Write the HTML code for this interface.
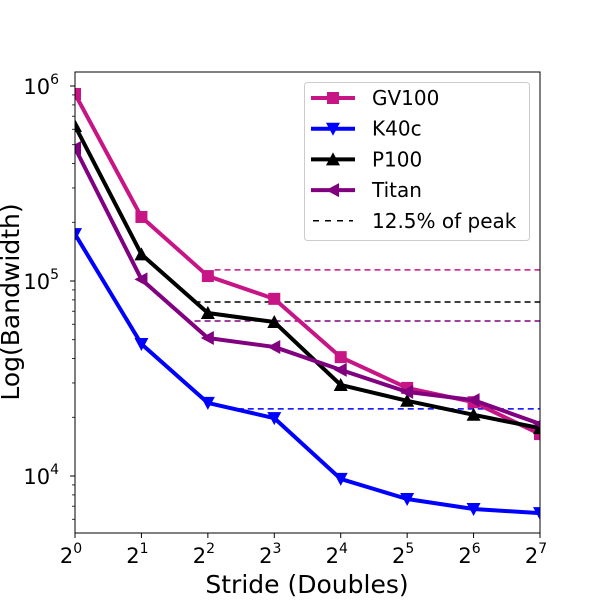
<!DOCTYPE html>
<html><head><meta charset="utf-8"><style>
body{margin:0;background:#fff}
svg{display:block;font-family:"DejaVu Sans","Liberation Sans",sans-serif}
</style></head><body>
<svg id="chart" width="600" height="600"></svg>
<script>
const strides=[0,1,2,3,4,5,6,7];
const gv100=[910000,213000,106000,81000,40700,28300,23900,16400];
const k40c=[174000,47500,23700,19800,9660,7620,6770,6450];
const p100=[624000,137000,68500,61600,29300,24300,20600,17600];
const titan=[481000,102000,51000,45900,35000,27000,24500,18500];
const peakValues=[114000,22100,78000,62400];
const peakStarts=[2.1,2.45,1.8,1.8];
const seriesNames=["GV100","K40c","P100","Titan"];
const xTicks=[0,1,2,3,4,5,6,7];
const yTicks=[4,5,6];

const NS="http://www.w3.org/2000/svg";
const svg=document.getElementById('chart');
const L=75,R=540,T=72,B=533;
const xS=v=>L+(v-0)/7*(R-L);
const yS=v=>281-(Math.log10(v)-5)*195;
function el(tag,attrs,parent){const e=document.createElementNS(NS,tag);for(const k in attrs)e.setAttribute(k,attrs[k]);(parent||svg).appendChild(e);return e;}
const colors=["#c71585","#0000ff","#000000","#800080"];
const data=[gv100,k40c,p100,titan];
const markers=["square","down","up","left"];
function marker(type,x,y,c,g){
  let m;
  if(type==="square")m=el('rect',{x:x-6,y:y-6,width:12,height:12,fill:c},g);
  else{let p;
    if(type==="down")p=[[x-7,y-6],[x+7,y-6],[x,y+7]];
    else if(type==="up")p=[[x-7,y+6],[x+7,y+6],[x,y-7]];
    else p=[[x+6,y-7],[x+6,y+7],[x-7,y]];
    m=el('polygon',{points:p.map(a=>a.join(',')).join(' '),fill:c},g);}
  
  
}
const defs=el('defs',{});const cp=el('clipPath',{id:'clip'},defs);el('rect',{x:L,y:T,width:R-L,height:B-T},cp);
peakValues.forEach((v,i)=>{
  const l=el('line',{x1:xS(peakStarts[i]),x2:R,y1:yS(v),y2:yS(v),stroke:colors[i],'stroke-width':1.5,'stroke-dasharray':'6,4'});
  
  
});
data.forEach((d,i)=>{
  const g=el('g',{'clip-path':'url(#clip)'});
  
  
  const pts=strides.map((s,j)=>xS(s)+','+yS(d[j])).join(' ');
  el('polyline',{points:pts,fill:'none',stroke:colors[i],'stroke-width':4,'stroke-linejoin':'round'},g);
  strides.forEach((s,j)=>marker(markers[i],xS(s),yS(d[j]),colors[i],g));
});
const fr=el('rect',{x:L,y:T,width:R-L,height:B-T,fill:'none',stroke:'#000','stroke-width':1});

xTicks.forEach(t=>{
  const x=xS(t);
  el('line',{x1:x,x2:x,y1:B,y2:B+5,stroke:'#000'});
  const tx=el('text',{x:x-4,y:B+30,'font-size':21,'text-anchor':'middle'});
  
  tx.textContent='2';
  const sp=el('tspan',{dy:-10,'font-size':14},tx);sp.textContent=t;
});
yTicks.forEach(t=>{
  const y=281-(t-5)*195;
  el('line',{x1:L-5,x2:L,y1:y,y2:y,stroke:'#000'});
  const tx=el('text',{x:L-16,y:y+8,'font-size':21,'text-anchor':'end'});
  
  tx.textContent='10';
  const sp=el('tspan',{dy:-10,'font-size':14},tx);sp.textContent=t;
});
for(let e=3;e<=6;e++)for(let k=2;k<=9;k++){const v=k*Math.pow(10,e);const y=yS(v);if(y>=T&&y<=B)el('line',{x1:L-3,x2:L,y1:y,y2:y,stroke:'#000','stroke-width':0.8});}
const xt=el('text',{x:307,y:593,'font-size':25,'text-anchor':'middle'});
xt.textContent='Stride (Doubles)';
const yt=el('text',{x:19,y:302,'font-size':25,'text-anchor':'middle',transform:'rotate(-90 19 302)'});
yt.textContent='Log(Bandwidth)';
const lg=el('g',{});

el('rect',{x:304.5,y:82.5,width:225,height:158,rx:3,fill:'#fff',stroke:'#ccc'},lg);
const labels=seriesNames.concat(["12.5% of peak"]);
labels.forEach((n,i)=>{
  const y=98+i*30.7;
  const eg=el('g',{},lg);
  
  if(i<4){el('line',{x1:311,x2:355,y1:y,y2:y,stroke:colors[i],'stroke-width':4},eg);marker(markers[i],333,y,colors[i],eg);}
  else el('line',{x1:313,x2:353,y1:y,y2:y,stroke:'#000','stroke-width':1.5,'stroke-dasharray':'6,6'},eg);
  const t=el('text',{x:372,y:y+7,'font-size':20},eg);t.textContent=n;
});
</script>
</body></html>
